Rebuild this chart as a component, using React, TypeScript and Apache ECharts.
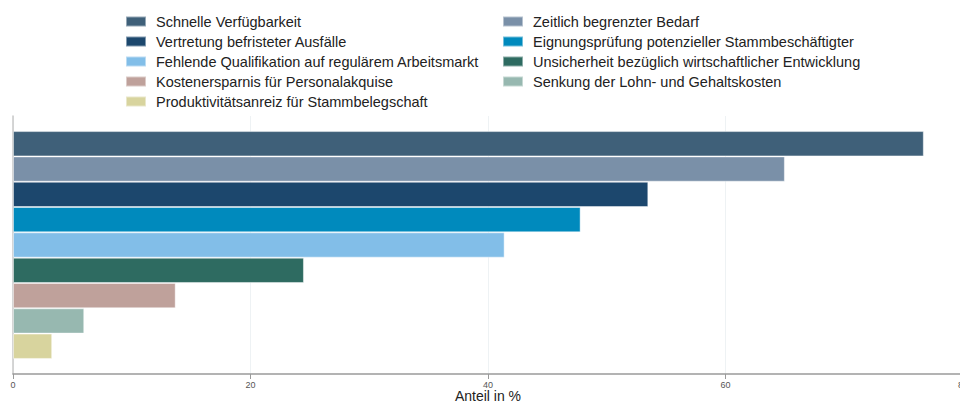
import React, { useEffect, useRef } from "react";
import * as echarts from "echarts";

const seriesNames = [
  "Schnelle Verfügbarkeit",
  "Zeitlich begrenzter Bedarf",
  "Vertretung befristeter Ausfälle",
  "Eignungsprüfung potenzieller Stammbeschäftigter",
  "Fehlende Qualifikation auf regulärem Arbeitsmarkt",
  "Unsicherheit bezüglich wirtschaftlicher Entwicklung",
  "Kostenersparnis für Personalakquise",
  "Senkung der Lohn- und Gehaltskosten",
  "Produktivitätsanreiz für Stammbelegschaft",
];
const seriesValues = [76.7, 65.0, 53.5, 47.8, 41.4, 24.5, 13.7, 6.0, 3.3];
const seriesColors = [
  "#3f6079",
  "#7a90a8",
  "#1c476d",
  "#008abd",
  "#82bee8",
  "#2e6b61",
  "#bfa19b",
  "#97b8b0",
  "#d8d49e",
];
const legendLeftNames = [seriesNames[0], seriesNames[2], seriesNames[4], seriesNames[6], seriesNames[8]];
const legendRightNames = [seriesNames[1], seriesNames[3], seriesNames[5], seriesNames[7]];
const categories = [""];
const axisMin = 0;
const axisMax = 80;
const axisInterval = 20;
const axisTitle = "Anteil in %";

export default function App() {
  const ref = useRef<HTMLDivElement>(null);
  useEffect(() => {
    document.body.style.margin = "0";
    document.body.style.overflow = "hidden";
    const chart = echarts.init(ref.current!, null, { renderer: "svg" });
    const legendCommon = {
      orient: "vertical" as const,
      top: 9,
      itemWidth: 20,
      itemHeight: 10,
      itemGap: 5,
      icon: "rect",
      selectedMode: false,
      textStyle: {
        fontFamily: "Liberation Sans, Arial, sans-serif",
        fontSize: 14.5,
        color: "#222",
        padding: [0, 0, 0, 5],
      },
    };
    chart.setOption({
      animation: false,
      backgroundColor: "#ffffff",
      legend: [
        { ...legendCommon, left: 120, data: legendLeftNames },
        { ...legendCommon, left: 497, data: legendRightNames },
      ],
      grid: {
        left: 13,
        width: 950,
        top: 116,
        height: 258,
        containLabel: false,
        outerBoundsMode: "none",
      },
      xAxis: {
        type: "value",
        min: axisMin,
        max: axisMax,
        interval: axisInterval,
        name: axisTitle,
        nameLocation: "middle",
        nameGap: 15,
        nameMoveOverlap: false,
        nameTextStyle: { fontFamily: "Liberation Sans, Arial, sans-serif", fontSize: 14, color: "#222" },
        axisLine: { show: true, lineStyle: { color: "#9a9a9a", width: 1.5 } },
        axisTick: { show: true, length: 5, lineStyle: { color: "#9a9a9a" } },
        axisLabel: { fontFamily: "Liberation Sans, Arial, sans-serif", fontSize: 9, color: "#555", margin: 6 },
        splitLine: { show: true, lineStyle: { color: "#eef2f4", width: 1 } },
      },
      yAxis: {
        type: "category",
        data: categories,
        axisLine: { show: true, lineStyle: { color: "#c8c8c8", width: 1.5 } },
        axisTick: { show: false },
        axisLabel: { show: false },
      },
      series: seriesNames.map((name, i) => ({
        name,
        type: "bar",
        data: [seriesValues[i]],
        barGap: "0%",
        barCategoryGap: "11.7%",
        itemStyle: {
          color: seriesColors[i],
          borderColor: "rgba(255,255,255,0.45)",
          borderWidth: 1,
        },
      })),
    });
    return () => chart.dispose();
  }, []);
  return <div ref={ref} style={{ width: 960, height: 403 }} />;
}
